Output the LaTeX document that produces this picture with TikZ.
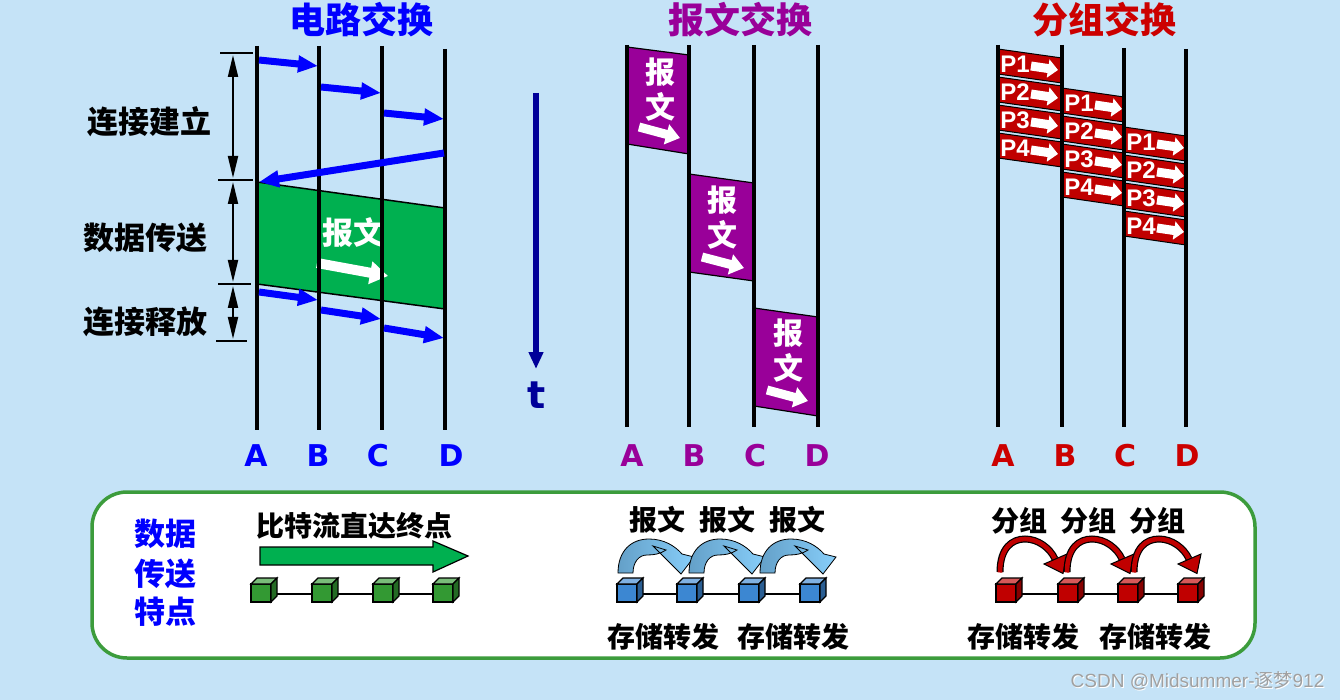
\documentclass[tikz,border=0pt]{standalone}
\usepackage{fontspec}
\setmainfont{Noto Sans CJK SC}
\newfontfamily\latf{DejaVu Sans}
\newfontfamily\arif{Liberation Sans}
\usetikzlibrary{arrows.meta}
\definecolor{bgc}{RGB}{197,227,247}
\definecolor{cblue}{RGB}{0,0,255}
\definecolor{cpurple}{RGB}{153,0,153}
\definecolor{cred}{RGB}{204,0,0}
\definecolor{pred}{RGB}{192,0,0}
\definecolor{cgreen}{RGB}{0,176,80}
\definecolor{pgreen}{RGB}{60,156,60}
\definecolor{navyc}{RGB}{0,0,153}
\definecolor{cubeg}{RGB}{51,153,51}
\definecolor{cubeb}{RGB}{60,135,210}
\definecolor{cuber}{RGB}{192,0,0}
\definecolor{arrdark}{RGB}{100,160,200}
\definecolor{arrlight}{RGB}{135,206,250}
\definecolor{wmark}{RGB}{160,160,160}

\newcommand\cubeat[2]{%
  \filldraw[fill=#2, draw=black, line width=1.2pt] (#1,584) rectangle ++(20,18);
  \filldraw[fill=#2!65!white, draw=black, line width=1.2pt] (#1,584) -- ++(6,-6) -- ++(20,0) -- ++(-6,6) -- cycle;
  \filldraw[fill=#2!70!black, draw=black, line width=1.2pt] (#1+20,584) -- ++(6,-6) -- ++(0,18) -- ++(-6,6) -- cycle;
}

\begin{document}
\begin{tikzpicture}[x=1pt,y=-1pt,
  vline/.style={line width=4pt, black},
  barrow/.style={line width=7pt, cblue, -{Triangle[length=20pt,width=16pt]}},
  wbar/.style={line width=10pt, white, -{Triangle[length=18pt,width=22pt]}},
  wmarr/.style={line width=9pt, white, -{Triangle[length=14pt,width=20pt]}},
  wparr/.style={line width=9pt, white, -{Triangle[length=10pt,width=18pt]}},
  dblarr/.style={line width=2pt, black, {Triangle[length=22pt,width=10pt]}-{Triangle[length=22pt,width=10pt]}},
  tickline/.style={line width=2pt, black},
  cjkl/.style={font=\bfseries\fontsize{31}{35}\selectfont, inner sep=0pt},
  ttl/.style={font=\bfseries\fontsize{36}{40}\selectfont, inner sep=0pt},
  smallcjk/.style={font=\bfseries\fontsize{28}{32}\selectfont, inner sep=0pt},
  abcd/.style={font=\latf\bfseries\fontsize{30}{34}\selectfont, inner sep=0pt},
  ptext/.style={font=\arif\bfseries\fontsize{24}{24}\selectfont, inner sep=0pt, white},
  mtext/.style={font=\bfseries\fontsize{30}{34}\selectfont, inner sep=0pt, white},
]
\useasboundingbox (0,0) rectangle (1340,700);
\fill[bgc] (0,0) rectangle (1340,700);

% ================= circuit switching =================
\node[ttl, text=cblue] (t1) at (361,20) {电路交换};
\filldraw[fill=cgreen, draw=black, line width=1.5pt] (257,182) -- (445,208) -- (445,309) -- (257,284) -- cycle;
\node[cjkl, text=white] (bw) at (353,233) {报文};
\draw[wbar] (317,263) -- (388,276);
\coordinate (cAt) at (257,46); \coordinate (cAb) at (257,430);
\coordinate (cBt) at (319,46); \coordinate (cBb) at (319,430);
\coordinate (cCt) at (382,46); \coordinate (cCb) at (382,430);
\coordinate (cDt) at (445,49); \coordinate (cDb) at (445,430);
\draw[vline] (cAt) -- (cAb);
\draw[vline] (cBt) -- (cBb);
\draw[vline] (cCt) -- (cCb);
\draw[vline] (cDt) -- (cDb);
\draw[barrow] (259,60) -- (318,66);
\draw[barrow] (321,87) -- (381,93);
\draw[barrow] (384,113) -- (444,119);
\draw[barrow] (444,153) -- (259,182);
\draw[barrow] (259,292) -- (318,300);
\draw[barrow] (321,310) -- (381,319);
\draw[barrow] (384,328) -- (444,338);
\draw[tickline] (220,53) -- (253,53);
\draw[tickline] (218,180) -- (253,180);
\draw[tickline] (218,284) -- (251,284);
\draw[tickline] (216,341) -- (247,341);
\draw[dblarr] (233,55) -- (233,178);
\draw[dblarr] (233,182) -- (233,282);
\draw[dblarr] (233,286) -- (233,339);
\node[cjkl] (l1) at (149,122) {连接建立};
\node[cjkl] (l2) at (145,238) {数据传送};
\node[cjkl] (l3) at (145,322) {连接释放};
\node[abcd, text=cblue] (ca) at (256,456) {A};
\node[abcd, text=cblue] (cb) at (318,456) {B};
\node[abcd, text=cblue] (cc) at (378,456) {C};
\node[abcd, text=cblue] (cd) at (451,456) {D};

\coordinate (tt) at (536,93); \coordinate (tb) at (536,369);
\draw[line width=6pt, navyc, -{Triangle[length=17pt,width=14pt]}] (tt) -- (tb);
\node[font=\latf\bfseries\fontsize{38}{40}\selectfont, text=navyc, inner sep=0pt] (tl) at (537,395) {t};

% ================= message switching =================
\node[ttl, text=cpurple] (t2) at (740,20) {报文交换};
\filldraw[fill=cpurple, draw=black, line width=1.2pt] (627,47) -- (689,55) -- (689,154) -- (627,144) -- cycle;
\filldraw[fill=cpurple, draw=black, line width=1.2pt] (689,174) -- (754,183) -- (754,281) -- (689,272) -- cycle;
\filldraw[fill=cpurple, draw=black, line width=1.2pt] (754,308) -- (818,317) -- (818,416) -- (754,406) -- cycle;
\node[mtext] (m1a) at (660,72) {报};
\node[mtext] (m1b) at (660,107) {文};
\draw[wmarr] (639,127) -- (680,138);
\node[mtext] (m2a) at (722,200) {报};
\node[mtext] (m2b) at (722,235) {文};
\draw[wmarr] (702,257) -- (744,268);
\node[mtext] (m3a) at (788,333) {报};
\node[mtext] (m3b) at (788,368) {文};
\draw[wmarr] (767,390) -- (808,401);
\coordinate (mAt) at (627,45); \coordinate (mAb) at (627,427);
\coordinate (mBt) at (689,45); \coordinate (mBb) at (689,427);
\coordinate (mCt) at (754,45); \coordinate (mCb) at (754,427);
\coordinate (mDt) at (818,45); \coordinate (mDb) at (818,427);
\draw[vline] (mAt) -- (mAb);
\draw[vline] (mBt) -- (mBb);
\draw[vline] (mCt) -- (mCb);
\draw[vline] (mDt) -- (mDb);
\node[abcd, text=cpurple] (ma) at (632,456) {A};
\node[abcd, text=cpurple] (mb) at (694,456) {B};
\node[abcd, text=cpurple] (mc) at (755,456) {C};
\node[abcd, text=cpurple] (md) at (817,456) {D};

% ================= packet switching =================
\node[ttl, text=cred] (t3) at (1104,20) {分组交换};
\foreach \xl/\xr/\yz in {998/1062/49, 1062/1124/88, 1124/1186/127} {
  \foreach \k/\lab in {0/P1,1/P2,2/P3,3/P4} {
    \pgfmathsetmacro\yt{\yz+28*\k}
    \filldraw[fill=pred, draw=black, line width=1pt] (\xl,\yt) -- (\xr,\yt+9) -- (\xr,\yt+34) -- (\xl,\yt+25) -- cycle;
    \node[ptext] at (\xl+17,\yt+15) {\lab};
    \draw[wparr] (\xl+33,\yt+17) -- (\xl+60,\yt+21);
  }
}
\coordinate (pAt) at (998,45); \coordinate (pAb) at (998,427);
\coordinate (pBt) at (1062,45); \coordinate (pBb) at (1062,427);
\coordinate (pCt) at (1124,48); \coordinate (pCb) at (1124,427);
\coordinate (pDt) at (1186,49); \coordinate (pDb) at (1186,427);
\draw[vline] (pAt) -- (pAb);
\draw[vline] (pBt) -- (pBb);
\draw[vline] (pCt) -- (pCb);
\draw[vline] (pDt) -- (pDb);
\node[abcd, text=cred] (pa) at (1003,456) {A};
\node[abcd, text=cred] (pb) at (1065,456) {B};
\node[abcd, text=cred] (pc) at (1125,456) {C};
\node[abcd, text=cred] (pd) at (1187,456) {D};

% ================= bottom panel =================
\filldraw[fill=white, draw=pgreen, line width=3.5pt, rounded corners=35pt] (92,492) rectangle (1255,658);
\node[cjkl, text=cblue] (f1) at (165,534) {数据};
\node[cjkl, text=cblue] (f2) at (165,574) {传送};
\node[cjkl, text=cblue] (f3) at (165,612) {特点};

\node[smallcjk] (bs) at (354,526) {比特流直达终点};
\filldraw[fill=cgreen, draw=black, line width=1.2pt] (260,547) -- (433,547) -- (433,541) -- (468,556) -- (433,572) -- (433,565) -- (260,565) -- cycle;
\draw[line width=1.5pt] (260,594) -- (443,594);
\cubeat{251}{cubeg}
\cubeat{312}{cubeg}
\cubeat{373}{cubeg}
\cubeat{433}{cubeg}

\node[smallcjk] (bm1) at (657,520) {报文};
\node[smallcjk] (bm2) at (727,520) {报文};
\node[smallcjk] (bm3) at (797,520) {报文};
\foreach \xo in {618,689,760} {
  \begin{scope}[shift={(\xo,573)}]
  \draw[black, line width=0.8pt, left color=arrdark, right color=arrlight]
    (0,0) .. controls (0,-22) and (13,-34) .. (31,-34)
    .. controls (46,-34) and (57,-27) .. (64,-19)
    -- (76,-16) -- (63,1) -- (35,-27) -- (48,-23)
    .. controls (42,-19) and (36,-18) .. (29,-18)
    .. controls (21,-18) and (15,-11) .. (15,0) -- cycle;
  \end{scope}
}
\draw[line width=1.5pt] (627,594) -- (810,594);
\cubeat{617}{cubeb}
\cubeat{677}{cubeb}
\cubeat{739}{cubeb}
\cubeat{800}{cubeb}
\node[smallcjk] (sf1) at (663,637) {存储转发};
\node[smallcjk] (sf2) at (793,637) {存储转发};

\node[smallcjk] (bp1) at (1019,521) {分组};
\node[smallcjk] (bp2) at (1088,521) {分组};
\node[smallcjk] (bp3) at (1157,521) {分组};
\foreach \xo in {1000,1067,1134} {
  \begin{scope}[shift={(\xo,572)}]
  \draw[black, line width=7pt] (0,0) .. controls (0,-24) and (12,-33) .. (25,-33) .. controls (38,-33) and (50,-24) .. (55,-13);
  \draw[pred, line width=4.6pt] (0,0.5) .. controls (0,-24) and (12,-33) .. (25,-33) .. controls (38,-33) and (50,-24) .. (55,-13);
  \filldraw[fill=pred, draw=black, line width=1pt] (44,-8) -- (67,-18) -- (63,1.5) -- cycle;
  \end{scope}
}
\draw[line width=1.5pt] (1006,594) -- (1188,594);
\cubeat{996}{cuber}
\cubeat{1058}{cuber}
\cubeat{1118}{cuber}
\cubeat{1178}{cuber}
\node[smallcjk] (sp1) at (1023,637) {存储转发};
\node[smallcjk] (sp2) at (1155,637) {存储转发};

\node[font=\fontsize{19}{21}\selectfont, text=white, inner sep=0pt] (wm0) at (1198.5,682) {\arif CSDN @Midsummer-\rmfamily 逐梦\arif 912};
\node[font=\fontsize{19}{21}\selectfont, text=wmark, inner sep=0pt] (wm) at (1197.5,681) {\arif CSDN @Midsummer-\rmfamily 逐梦\arif 912};
\end{tikzpicture}
\end{document}
